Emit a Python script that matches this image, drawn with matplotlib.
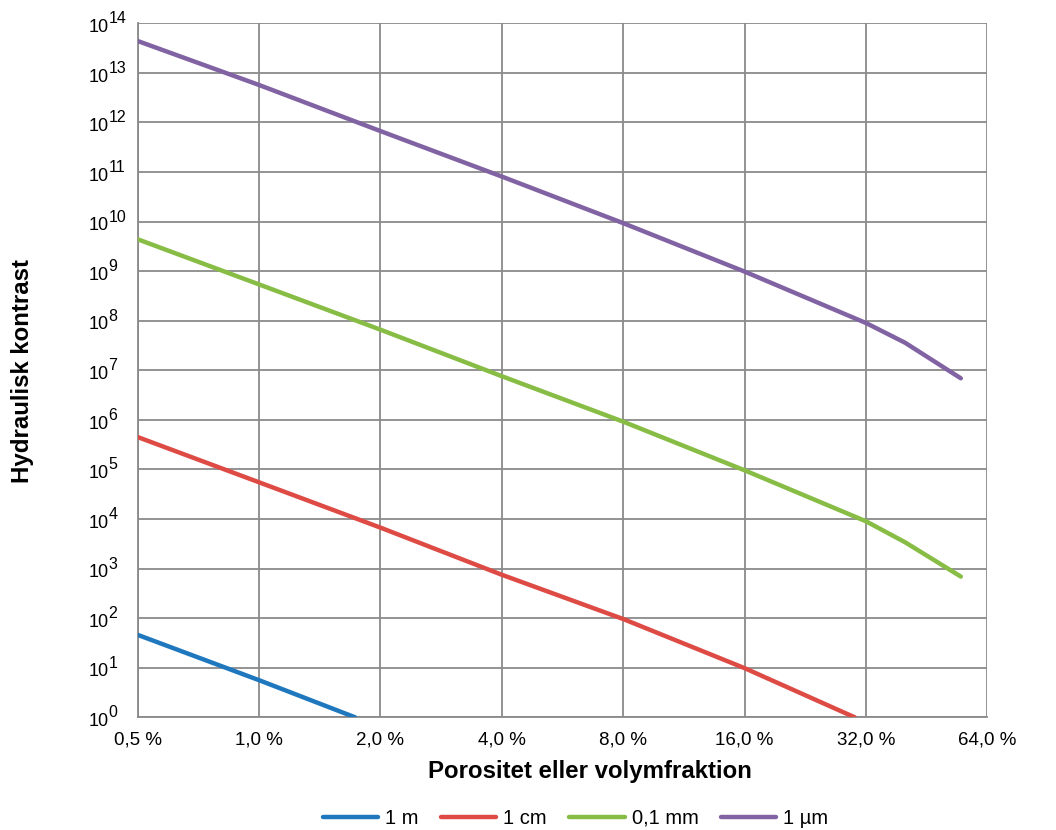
import matplotlib
matplotlib.use("Agg")
import matplotlib.pyplot as plt
from matplotlib.ticker import FixedLocator, NullLocator

plt.rcParams['font.family'] = ['Liberation Sans', 'DejaVu Sans']

# porositet (%) och hydraulisk kontrast
x_1m = [0.5, 1, 1.73]
y_1m = [46, 5.6, 1.0]
x_1cm = [0.5, 1, 2, 4, 8, 16, 30]
y_1cm = [4.5e5, 5.5e4, 6.7e3, 7.5e2, 96, 9.8, 1.0]
x_01mm = [0.5, 1, 2, 4, 8, 16, 32, 40, 55]
y_01mm = [4.4e9, 5.4e8, 6.6e7, 7.6e6, 9.2e5, 9.6e4, 9.0e3, 3.4e3, 6.9e2]
x_1um = [0.5, 1, 2, 4, 8, 16, 32, 40, 55]
y_1um = [4.4e13, 5.7e12, 6.7e11, 8.1e10, 9.3e9, 9.8e8, 9.0e7, 3.6e7, 6.9e6]

series_names = ["1 m", "1 cm", "0,1 mm", "1 µm"]
colors = ["#1F78BE", "#DE4B45", "#87BC45", "#8163A4"]

x_ticks = [0.5, 1, 2, 4, 8, 16, 32, 64]
x_ticklabels = ["0,5 %", "1,0 %", "2,0 %", "4,0 %", "8,0 %", "16,0 %", "32,0 %", "64,0 %"]
y_exps = list(range(0, 15))

fig = plt.figure(figsize=(10.56, 8.3), dpi=100)
ax = fig.add_axes([0.1304, 0.1358, 0.8046, 0.8361])

data = [(x_1m, y_1m), (x_1cm, y_1cm), (x_01mm, y_01mm), (x_1um, y_1um)]
for (xs, ys), name, c in zip(data, series_names, colors):
    ax.plot(xs, ys, color=c, lw=3.2, solid_capstyle="round", label=name, zorder=3)

ax.set_xscale("log", base=2)
ax.set_yscale("log")
ax.set_xlim(0.5, 64)
ax.set_ylim(1, 1e14)

ax.xaxis.set_major_locator(FixedLocator(x_ticks))
ax.xaxis.set_minor_locator(NullLocator())
ax.set_xticklabels(x_ticklabels)
ax.yaxis.set_major_locator(FixedLocator([10.0 ** e for e in y_exps]))
ax.yaxis.set_minor_locator(NullLocator())
ax.set_yticklabels([])

# y-etiketter: "10" med exponent nästan i samma storlek
for e in y_exps:
    ax.annotate("10", xy=(0, 10.0 ** e), xycoords=("axes fraction", "data"),
                xytext=(-21, -6.3), textcoords="offset points",
                ha="right", va="baseline", fontsize=13, annotation_clip=False)
    ax.annotate(str(e), xy=(0, 10.0 ** e), xycoords=("axes fraction", "data"),
                xytext=(-21, 0), textcoords="offset points",
                ha="left", va="baseline", fontsize=11.5, annotation_clip=False)

ax.grid(True, color="#8a8a8a", lw=1.3, zorder=0)
for side in ["top", "right"]:
    ax.spines[side].set_visible(False)
for side in ["left", "bottom"]:
    ax.spines[side].set_color("#8a8a8a")
    ax.spines[side].set_linewidth(1.3)
ax.tick_params(axis="both", length=0, labelsize=13.5, colors="#000000")
ax.tick_params(axis="x", pad=10)

fig.text(0.559, 0.07, "Porositet eller volymfraktion", ha="center", va="center",
         fontsize=17.3, fontweight="bold")
fig.text(0.021, 0.553, "Hydraulisk kontrast", ha="center", va="center",
         rotation=90, fontsize=17.3, fontweight="bold")

fig.legend(loc="center", bbox_to_anchor=(0.545, 0.014), ncol=4, frameon=False,
           fontsize=14.5, handlelength=2.75, handletextpad=0.35, columnspacing=1.1)

fig.savefig("out.png", dpi=100)
